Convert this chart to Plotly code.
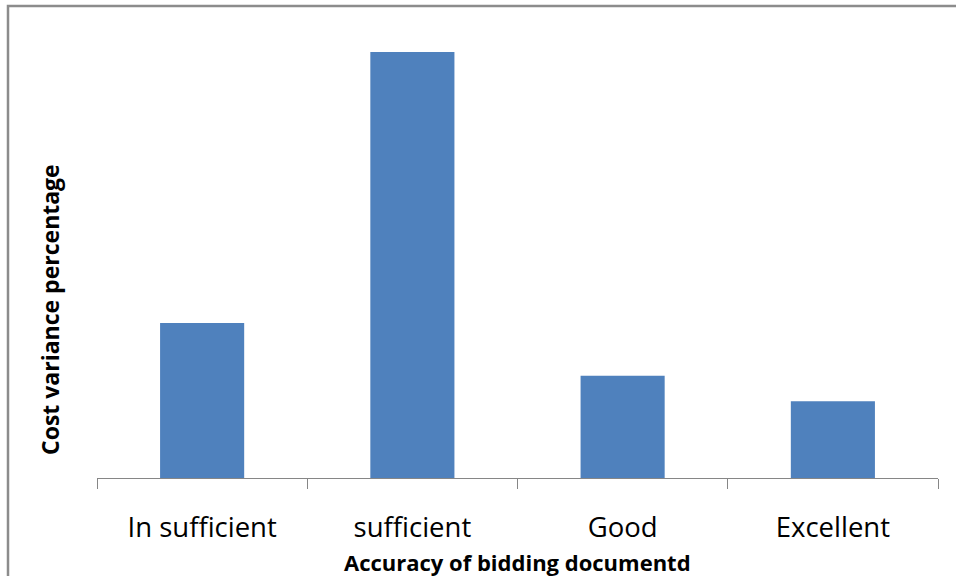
import plotly.graph_objects as go

# Accuracy levels of the bidding documents and their cost variance
categories = ["In sufficient", "sufficient", "Good", "Excellent"]
cost_variance = [18.2, 50.0, 12.0, 9.0]

x_title = "Accuracy of bidding documentd"
y_title = "Cost variance percentage"

bar_color = "#4F81BD"
axis_color = "#868686"
font_family = "'Open Sans', Lato, sans-serif"

fig = go.Figure(
    go.Bar(
        x=categories,
        y=cost_variance,
        marker=dict(color=bar_color, line=dict(width=0)),
    )
)

plot_left, plot_right, plot_top, plot_bottom = 97, 938, 30, 478
W, H = 956, 576
pw = plot_right - plot_left
ph = plot_bottom - plot_top


def px_x(x):
    return (x - plot_left) / pw


def px_y(y):
    return (plot_bottom - y) / ph


fig.update_layout(
    width=W,
    height=H,
    margin=dict(l=plot_left, r=W - plot_right, t=plot_top, b=H - plot_bottom),
    paper_bgcolor="white",
    plot_bgcolor="white",
    bargap=0.6,
    showlegend=False,
    font=dict(family=font_family, color="#000000"),
    xaxis=dict(
        type="category",
        range=[-0.5, 3.5],
        showline=True,
        linecolor=axis_color,
        linewidth=1,
        ticks="outside",
        tickson="boundaries",
        ticklen=10,
        tickcolor=axis_color,
        tickwidth=1,
        tickfont=dict(size=27.5, color="#000000"),
        ticklabelstandoff=25,
        showgrid=False,
        zeroline=False,
    ),
    yaxis=dict(
        range=[0, 50.0 * ph / (plot_bottom - 52)],
        showticklabels=False,
        showgrid=False,
        showline=False,
        zeroline=False,
        ticks="",
    ),
    annotations=[
        dict(
            text=f"<b>{x_title}</b>",
            xref="paper", yref="paper",
            x=px_x(517.5), y=px_y(562),
            xanchor="center", yanchor="middle",
            showarrow=False,
            font=dict(size=22, color="#000000"),
        ),
        dict(
            text=f"<b>{y_title}</b>",
            xref="paper", yref="paper",
            x=px_x(50), y=px_y(310),
            xanchor="center", yanchor="middle",
            textangle=-90,
            showarrow=False,
            font=dict(size=23, color="#000000"),
        ),
    ],
    shapes=[
        dict(
            type="rect",
            xref="paper",
            yref="paper",
            x0=px_x(8),
            x1=px_x(W + 20),
            y0=px_y(H + 20),
            y1=px_y(6),
            line=dict(color="#8C8C8C", width=2.5),
            fillcolor="rgba(0,0,0,0)",
            layer="below",
        )
    ],
)

fig.write_html("out.html")
